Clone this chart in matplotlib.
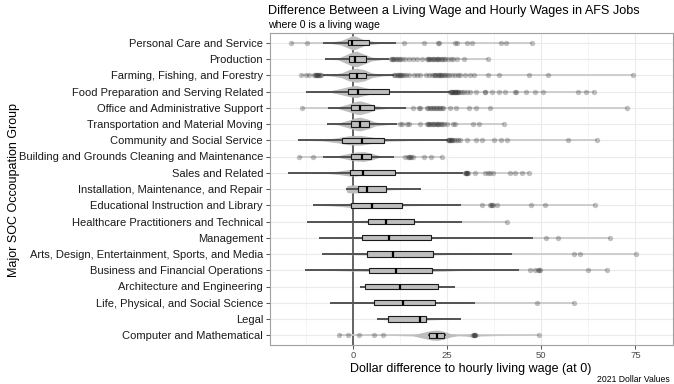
import matplotlib
matplotlib.use('Agg')
import matplotlib.pyplot as plt
from matplotlib.ticker import MultipleLocator

plt.rcParams['font.family'] = ['Liberation Sans', 'DejaVu Sans']

# 카테고리 (위에서 아래 순서)
categories = [
    'Personal Care and Service', 'Production', 'Farming, Fishing, and Forestry',
    'Food Preparation and Serving Related', 'Office and Administrative Support',
    'Transportation and Material Moving', 'Community and Social Service',
    'Building and Grounds Cleaning and Maintenance', 'Sales and Related',
    'Installation, Maintenance, and Repair', 'Educational Instruction and Library',
    'Healthcare Practitioners and Technical', 'Management',
    'Arts, Design, Entertainment, Sports, and Media', 'Business and Financial Operations',
    'Architecture and Engineering', 'Life, Physical, and Social Science', 'Legal',
    'Computer and Mathematical',
]

# 박스플롯 통계값
q1 = [-1.4, -1.1, -1.1, -1.4, -0.6, -0.4, -2.9, -0.4, -0.7, 1.3, -0.4, 4.1, 2.4, 3.7, 4.3, 3.3, 5.7, 9.2, 20.3]
median = [-0.1, 0.6, 1.1, 1.4, 1.9, 1.9, 2.4, 2.4, 2.6, 3.7, 5.2, 8.9, 9.7, 10.6, 11.5, 12.6, 13.4, 17.7, 22.3]
q3 = [4.3, 3.4, 3.6, 9.6, 5.5, 4.4, 8.4, 4.9, 11.3, 8.8, 13.1, 16.3, 20.8, 21.2, 21.0, 22.7, 21.7, 19.4, 24.2]
whisk_lo = [-8.0, -7.3, -8.0, -12.4, -6.7, -6.9, -14.6, -8.0, -17.2, -1.8, -10.7, -12.3, -9.0, -8.2, -12.6, 1.9, -6.2, 6.4, 19.9]
whisk_hi = [11.5, 9.6, 11.0, 25.8, 14.0, 11.7, 25.2, 11.0, 29.2, 18.1, 28.7, 28.9, 47.9, 42.3, 44.0, 27.2, 32.4, 28.6, 24.7]

# 이상치
outliers = [
    [-16.4, -12.1, 13.7, 19.0, 22.5, 22.8, 27.0, 27.6, 30.2, 31.7, 39.3, 40.6, 47.5],
    [10.0, 10.3, 10.6, 11.0, 11.4, 11.8, 12.2, 12.6, 13.0, 13.9, 14.8, 16.1, 17.0, 18.3,
     19.6, 20.0, 20.2, 20.6, 21.0, 21.3, 21.6, 22.0, 22.3, 22.6, 23.0, 23.4, 23.8, 24.2,
     24.5, 25.2, 26.0, 26.6, 27.6, 29.6, 36.0],
    [-13.8, -12.5, -11.6, -10.2, -10.0, -9.8, -9.6, -9.4, -9.2, -9.0, -8.8, -8.5,
     11.0, 11.3, 11.6, 11.9, 12.2, 12.5, 12.8, 13.1, 13.5, 14.2, 15.0, 16.2, 17.0, 17.8,
     19.3, 20.2, 21.0, 21.5, 21.8, 22.2, 22.5, 22.8, 23.2, 23.5, 23.8, 24.1, 24.4, 25.0,
     25.6, 26.3, 27.0, 27.8, 28.5, 29.8, 31.1, 32.2, 36.0, 38.7, 46.7, 51.8, 74.4],
    [25.8, 26.0, 26.2, 26.4, 26.6, 26.8, 27.0, 27.2, 27.4, 27.6, 27.8, 28.0, 28.5, 29.0,
     29.5, 30.2, 31.0, 32.8, 35.0, 35.2, 37.0, 38.7, 40.4, 43.0, 43.3, 46.0, 48.4, 50.6,
     59.8, 62.0, 64.1],
    [-13.5, 16.1, 17.6, 17.9, 19.6, 20.0, 20.4, 20.8, 21.2, 21.6, 22.0, 22.4, 22.8, 23.2,
     23.6, 24.0, 25.8, 27.3, 30.9, 32.6, 36.4, 72.7],
    [12.6, 13.0, 14.4, 14.8, 17.9, 19.6, 20.0, 20.3, 20.6, 21.0, 21.3, 21.6, 22.0, 22.3,
     22.6, 23.0, 23.4, 23.8, 24.2, 24.9, 26.5, 27.2, 32.0, 33.5, 40.1],
    [25.2, 25.4, 25.6, 25.8, 26.0, 26.2, 26.4, 26.8, 27.3, 28.0, 28.5, 30.4, 32.6, 34.2,
     37.5, 39.2, 40.8, 57.0, 64.7],
    [-14.4, -10.6, 13.9, 14.6, 15.0, 15.2, 15.4, 16.1, 19.0, 20.8, 23.6],
    [29.8, 30.0, 30.1, 30.3, 30.4, 30.7, 32.4, 35.0, 35.8, 36.5, 37.3, 41.7, 43.0, 45.0, 46.8],
    [],
    [34.4, 36.4, 36.7, 36.9, 37.1, 38.2, 47.4, 50.9, 64.3],
    [41.0],
    [51.4, 54.4, 68.4],
    [58.7, 60.3, 75.2],
    [46.9, 48.4, 49.2, 49.5, 49.7, 62.3, 67.4],
    [],
    [48.8, 58.7],
    [],
    [-3.8, -1.4, 1.7, 5.7, 7.9, 32.0, 32.1, 32.2, 32.3, 32.4, 49.4],
]

# 바이올린 윤곽 (x 위치, 반폭)
violin_x = [
    [-9, -6, -3, -1, 0, 1, 3, 6, 9, 12],
    [-7, -4, -2, 0, 1, 3, 5, 8, 12],
    [-10, -6, -3, -1, 1, 3, 5, 8, 12],
    [-12, -6, -3, 0, 1, 3, 6, 10, 15, 25],
    [-7, -4, -1, 1, 2, 4, 6, 9, 14],
    [-7, -4, -1, 1, 2, 4, 6, 9, 12],
    [-14, -8, -4, -1, 2, 5, 9, 15, 25],
    [-8, -4, -1, 1, 3, 5, 7, 10],
    [-17, -8, -4, -1, 1, 4, 8, 15, 29],
    [-2, -1.5, 0, 2, 4, 7, 10, 14, 18],
    [-11, -6, -3, 0, 2, 5, 9, 14, 20, 29],
    [-12, -5, 0, 4, 9, 14, 20, 29],
    [-9, -4, 0, 5, 10, 15, 20, 25, 30, 48],
    [-8, -3, 1, 5, 10, 15, 21, 26, 32, 42],
    [-13, -5, 0, 5, 10, 15, 20, 24, 28, 44],
    [1.5, 4, 10, 15, 20, 24, 27.5],
    [-6, 0, 5, 10, 15, 20, 25, 33],
    [6, 9, 14, 18, 22, 29],
    [-5, 10, 16, 19, 21, 22.5, 24, 26, 28, 30, 32, 34, 40, 50],
]
violin_w = [
    [0, 0.04, 0.15, 0.35, 0.45, 0.38, 0.18, 0.07, 0.02, 0],
    [0, 0.05, 0.25, 0.45, 0.48, 0.3, 0.12, 0.03, 0],
    [0, 0.04, 0.15, 0.35, 0.43, 0.35, 0.15, 0.04, 0],
    [0, 0.05, 0.2, 0.36, 0.37, 0.25, 0.1, 0.04, 0.02, 0],
    [0, 0.05, 0.25, 0.4, 0.42, 0.3, 0.12, 0.04, 0],
    [0, 0.05, 0.25, 0.4, 0.42, 0.3, 0.12, 0.04, 0],
    [0, 0.04, 0.16, 0.28, 0.3, 0.2, 0.06, 0.02, 0],
    [0, 0.05, 0.2, 0.28, 0.3, 0.2, 0.06, 0],
    [0, 0.02, 0.1, 0.2, 0.2, 0.1, 0.04, 0.01, 0],
    [0, 0.22, 0.25, 0.22, 0.18, 0.1, 0.05, 0.02, 0],
    [0, 0.03, 0.08, 0.15, 0.15, 0.1, 0.06, 0.03, 0.01, 0],
    [0, 0.02, 0.05, 0.08, 0.09, 0.07, 0.03, 0],
    [0, 0.02, 0.05, 0.07, 0.08, 0.08, 0.06, 0.04, 0.02, 0],
    [0, 0.02, 0.05, 0.07, 0.07, 0.07, 0.06, 0.03, 0.01, 0],
    [0, 0.02, 0.05, 0.07, 0.08, 0.08, 0.08, 0.06, 0.02, 0],
    [0, 0.05, 0.07, 0.07, 0.06, 0.03, 0],
    [0, 0.03, 0.05, 0.06, 0.06, 0.05, 0.02, 0],
    [0, 0.05, 0.07, 0.08, 0.04, 0],
    [0, 0.01, 0.04, 0.2, 0.3, 0.32, 0.25, 0.1, 0.03, 0.05, 0.12, 0.04, 0.01, 0],
]

fig = plt.figure(figsize=(6.74, 3.84), dpi=100)
ax = fig.add_axes([270 / 674, 1 - 345 / 384, 403 / 674, 312 / 384])

n = len(categories)
box_h = 0.32

for i, cat in enumerate(categories):
    y = n - i
    # 전체 범위 선
    vals = [whisk_lo[i], whisk_hi[i]] + outliers[i]
    ax.plot([min(vals), max(vals)], [y, y], color='#c8c8c8', lw=1.2, zorder=2, solid_capstyle='butt')
    # 바이올린
    vx = violin_x[i]
    vw = violin_w[i]
    ax.fill_between(vx, [y - w for w in vw], [y + w for w in vw], color='#bdbdbd',
                    lw=0, zorder=3)
    # 수염
    ax.plot([whisk_lo[i], whisk_hi[i]], [y, y], color='#333333', lw=1.1, zorder=4,
            solid_capstyle='butt')
    # 박스
    ax.add_patch(plt.Rectangle((q1[i], y - box_h / 2), q3[i] - q1[i], box_h,
                               facecolor='#bebebe', edgecolor='#1a1a1a', lw=0.8, zorder=5))
    ax.plot([median[i], median[i]], [y - box_h / 2, y + box_h / 2], color='black',
            lw=1.6, zorder=6, solid_capstyle='butt')
    # 이상치
    if outliers[i]:
        ax.scatter(outliers[i], [y] * len(outliers[i]), s=15, color='#333333', alpha=0.3,
                   lw=0, zorder=4)

# 0 기준선
ax.axvline(0, color='#595959', lw=1.3, zorder=1.5)

ax.set_xlim(-22, 85)
ax.set_ylim(0.4, n + 0.6)
ax.set_yticks(range(n, 0, -1))
ax.set_yticklabels(categories)
ax.xaxis.set_minor_locator(MultipleLocator(12.5))
ax.set_xticks([0, 25, 50, 75])
ax.grid(True, which='major', color='#ebebeb', lw=0.8, zorder=0)
ax.grid(True, which='minor', axis='x', color='#f2f2f2', lw=0.5, zorder=0)
ax.set_axisbelow(True)
ax.tick_params(axis='x', which='minor', length=0)
ax.tick_params(axis='both', which='major', length=3, color='#333333', width=0.6)
ax.tick_params(axis='y', labelsize=8.0, labelcolor='#1a1a1a', pad=2)
ax.tick_params(axis='x', labelsize=6.8, labelcolor='#4d4d4d', pad=1)
for sp in ax.spines.values():
    sp.set_color('#a0a0a0')
    sp.set_linewidth(0.8)

fig.text(471 / 674, 1 - 369 / 384, 'Dollar difference to hourly living wage (at 0)',
         fontsize=9, ha='center', va='center')
fig.text(8 / 674, 1 - 190 / 384, 'Major SOC Occoupation Group', rotation=90,
         fontsize=9, ha='left', va='center')
fig.text(268 / 674, 1 - 11 / 384, 'Difference Between a Living Wage and Hourly Wages in AFS Jobs',
         fontsize=9.1, ha='left', va='center')
fig.text(268 / 674, 1 - 25 / 384, 'where 0 is a living wage', fontsize=7.6, ha='left', va='center')
fig.text(670 / 674, 1 - 379.5 / 384, '2021 Dollar Values', fontsize=6.2, ha='right', va='center')

fig.savefig('out.png', dpi=100)
